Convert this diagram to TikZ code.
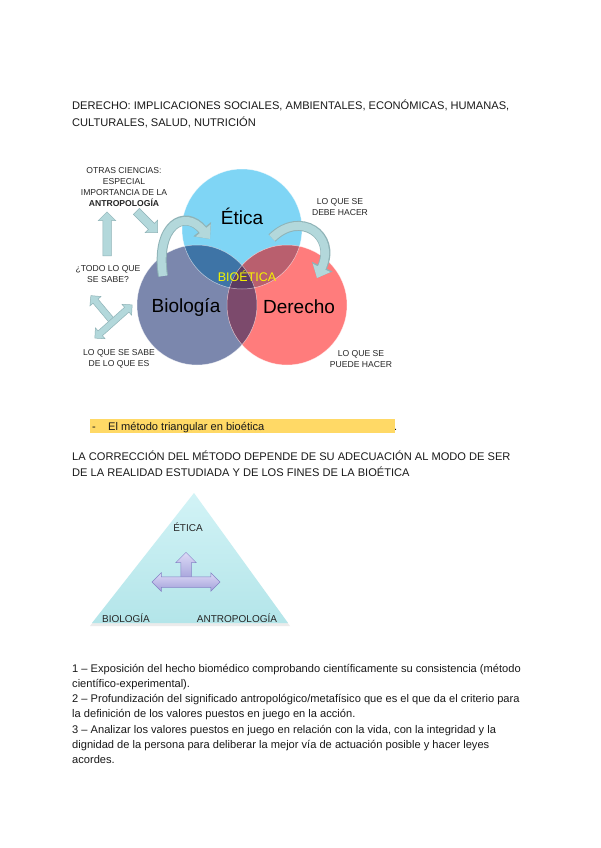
\documentclass[tikz,border=0pt]{standalone}
\usepackage{fontspec}
\setmainfont{Liberation Sans}
\usepackage{xcolor}
\usetikzlibrary{positioning,shapes.arrows,arrows.meta}
\definecolor{etica}{HTML}{7FD5F5}
\definecolor{bio}{HTML}{7B87AD}
\definecolor{der}{HTML}{FF7C7C}
\definecolor{eb}{HTML}{3E74A6}
\definecolor{ed}{HTML}{B95F6E}
\definecolor{bd}{HTML}{7C4A6C}
\definecolor{ebd}{HTML}{5B3C62}
\definecolor{bioyel}{HTML}{F5F500}
\definecolor{arrfill}{HTML}{B3D8DB}
\definecolor{arrline}{HTML}{8FB3B7}
\definecolor{hl}{HTML}{FFD966}
\definecolor{tritop}{HTML}{D2F3F6}
\definecolor{tribot}{HTML}{B3E5E9}
\definecolor{lavtop}{HTML}{DCDAF6}
\definecolor{lavbot}{HTML}{A3A0DA}
\definecolor{lavline}{HTML}{8582C6}
\begin{document}
\begin{tikzpicture}[x=1pt,y=-1pt,
  txt/.style={inner sep=0pt,anchor=base west,font=\fontsize{11.1}{16}\selectfont,text=black!90},
  lbl/.style={inner sep=0pt,align=center,font=\fontsize{8.6}{11}\selectfont,text=black!85},
  vlbl/.style={inner sep=0pt,font=\fontsize{19}{22}\selectfont},
  tlbl/.style={inner sep=0pt,font=\fontsize{10}{11}\selectfont,text=black!85},
  blk/.style={draw=arrline,fill=arrfill,line width=0.5pt,inner sep=0pt,
    text height=0pt,text depth=0pt,minimum width=0pt},
  lav/.style={draw=lavline,top color=lavtop,bottom color=lavbot,line width=0.5pt,
    inner sep=0pt,text height=0pt,text depth=0pt,minimum width=0pt}]
\useasboundingbox (0,0) rectangle (600,848);
\fill[white] (0,0) rectangle (600,848);

% encabezado
\node[txt] (h1) at (72,110) {DERECHO: IMPLICACIONES SOCIALES, AMBIENTALES, ECONÓMICAS, HUMANAS,};
\node[txt] (h2) at (72,126) {CULTURALES, SALUD, NUTRICIÓN};

% circulos
\coordinate (ce) at (242,229);
\coordinate (cb) at (197,305);
\coordinate (cd) at (287,305);
\fill[etica] (ce) circle (60pt);
\fill[bio] (cb) circle (60pt);
\fill[der] (cd) circle (60pt);
\begin{scope}
  \clip (ce) circle (60pt);
  \fill[eb] (cb) circle (60pt);
  \fill[ed] (cd) circle (60pt);
\end{scope}
\begin{scope}
  \clip (cb) circle (60pt);
  \fill[bd] (cd) circle (60pt);
  \clip (cd) circle (60pt);
  \fill[ebd] (ce) circle (60pt);
\end{scope}
\foreach \c in {ce,cb,cd} \draw[white,line width=0.5pt,opacity=0.6] (\c) circle (60pt);
\node[vlbl] (tetica) at (242,216) {Ética};
\node[vlbl] (tbio) at (186,307) {Biología};
\node[vlbl] (tder) at (299,307) {Derecho};
\node[inner sep=0pt,font=\fontsize{12.5}{14}\selectfont,text=bioyel] (bioet) at (247,276) {BIOÉTICA};

% etiquetas
\node[lbl] (otras) at (124,187.5) {OTRAS CIENCIAS:\\ESPECIAL\\IMPORTANCIA DE LA\\\textbf{ANTROPOLOGÍA}};
\node[lbl] (todo) at (108,274) {¿TODO LO QUE\\SE SABE?};
\node[lbl] (sabe) at (119,358.5) {LO QUE SE SABE\\DE LO QUE ES};
\node[lbl] (debe) at (340,207) {LO QUE SE\\DEBE HACER};
\node[lbl] (puede) at (361,359) {LO QUE SE\\PUEDE HACER};

% flechas de bloque
\node[blk,single arrow,inner ysep=4pt,single arrow head extend=4.5pt,
      minimum height=44pt,rotate=90] (aup) at (107,236) {};
\node[blk,single arrow,inner ysep=4pt,single arrow head extend=4.5pt,
      minimum height=30pt,rotate=-45] (adiag) at (145.5,220.5) {};
\node[blk,single arrow,inner ysep=3pt,single arrow head extend=4pt,
      minimum height=33pt,rotate=130] (abr) at (102.5,309.5) {};
\node[blk,double arrow,inner ysep=3pt,double arrow head extend=4pt,
      minimum height=50pt,rotate=41.7] (adbl) at (113.5,321.5) {};

% flechas curvas
\coordinate (a1s) at (163,276);
\coordinate (a1e) at (210,239);
\coordinate (a2s) at (272,238);
\coordinate (a2e) at (317,278);
\foreach \w/\c/\l/\hw in {10/arrline/12.5/22,8/arrfill/11/18.5}{
  \draw[line width=\w pt,\c,-{Triangle[length=\l pt,width=\hw pt]}]
    (a1s) .. controls (155,225) and (185,208) .. (a1e);
  \draw[line width=\w pt,\c,-{Triangle[length=\l pt,width=\hw pt]}]
    (a2s) .. controls (300,210) and (337,235) .. (a2e);
}

% metodo triangular
\node[fill=hl,inner sep=0pt,minimum width=305pt,minimum height=14pt,anchor=west] (bar) at (90,426) {};
\node[txt] (dash) at (92,430) {-};
\node[txt] (mt) at (108,430) {El método triangular en bioética};
\node[txt] (pt) at (394,430) {.};
\node[txt] (c1) at (72,460) {LA CORRECCIÓN DEL MÉTODO DEPENDE DE SU ADECUACIÓN AL MODO DE SER};
\node[txt] (c2) at (72,476) {DE LA REALIDAD ESTUDIADA Y DE LOS FINES DE LA BIOÉTICA};

% triangulo
\fill[black!8] (194,495) -- (290,626) -- (90,626) -- cycle;
\shade[top color=tritop,bottom color=tribot] (194,493) -- (288,623) -- (92,623) -- cycle;
\node[tlbl] (tet) at (188,527) {ÉTICA};
\node[tlbl] (tbl) at (126,618) {BIOLOGÍA};
\node[tlbl] (tan) at (237,618) {ANTROPOLOGÍA};
\node[lav,single arrow,inner ysep=5pt,single arrow head extend=5pt,
      minimum height=28pt,rotate=90] (lup) at (186,569) {};
\node[lav,double arrow,inner ysep=5pt,double arrow head extend=4pt,
      minimum height=68pt] (lh) at (186,582) {};

% pasos
\foreach \t [count=\i] in {
  {1 – Exposición del hecho biomédico comprobando científicamente su consistencia (método},
  {científico-experimental).},
  {2 – Profundización del significado antropológico/metafísico que es el que da el criterio para},
  {la definición de los valores puestos en juego en la acción.},
  {3 – Analizar los valores puestos en juego en relación con la vida, con la integridad y la},
  {dignidad de la persona para deliberar la mejor vía de actuación posible y hacer leyes},
  {acordes.}}
  \node[txt] (p\i) at (72,{656.7+15.3*\i}) {\t};
\end{tikzpicture}
\end{document}
